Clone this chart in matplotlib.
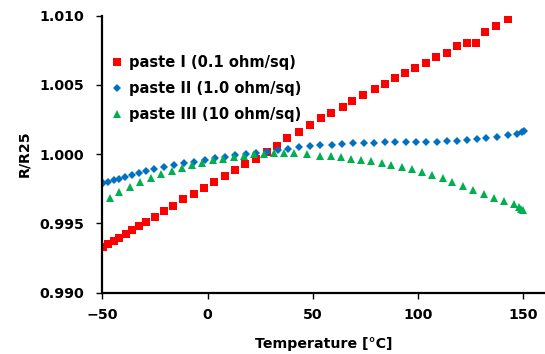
import matplotlib.pyplot as plt

# paste I (0.1 ohm/sq)
temp_1 = [-49.6, -47.2, -44.5, -42.0, -39.0, -36.0, -32.8, -29.2, -25.0, -20.7,
          -16.3, -11.6, -6.5, -1.6, 3.2, 8.3, 13.2, 17.9, 23.2, 28.4,
          33.1, 37.9, 43.3, 48.6, 53.8, 58.8, 64.2, 68.8, 74.0, 79.5,
          84.4, 89.0, 94.0, 98.8, 103.9, 108.8, 113.7, 118.5, 123.5, 127.8,
          132.1, 137.3, 143.0]
r_1 = [0.99330, 0.99349, 0.99373, 0.99397, 0.99424, 0.99450, 0.99481, 0.99508, 0.99544, 0.99589,
       0.99626, 0.99674, 0.99712, 0.99753, 0.99797, 0.99840, 0.99883, 0.99926, 0.99967, 1.00017,
       1.00056, 1.00114, 1.00157, 1.00210, 1.00258, 1.00294, 1.00338, 1.00381, 1.00424, 1.00468,
       1.00504, 1.00547, 1.00585, 1.00621, 1.00657, 1.00698, 1.00732, 1.00778, 1.00804, 1.00802,
       1.00879, 1.00922, 1.00973]

# paste II (1.0 ohm/sq)
temp_2 = [-49.6, -47.2, -44.7, -42.0, -39.2, -36.1, -32.8, -29.2, -25.4, -20.7,
          -16.1, -11.2, -6.6, -1.4, 3.4, 8.3, 13.2, 18.1, 23.2, 28.3,
          33.6, 38.4, 43.3, 48.7, 53.6, 59.0, 64.1, 69.0, 74.2, 79.1,
          84.2, 89.1, 94.2, 99.1, 103.9, 108.9, 113.7, 118.6, 123.4, 128.0,
          132.5, 137.6, 143.0, 147.0, 149.7, 150.6]
r_2 = [0.99794, 0.99801, 0.99811, 0.99822, 0.99837, 0.99851, 0.99866, 0.99878, 0.99890, 0.99905,
       0.99923, 0.99936, 0.99945, 0.99957, 0.99972, 0.99981, 0.99994, 1.00001, 1.00010, 1.00017,
       1.00030, 1.00037, 1.00049, 1.00061, 1.00063, 1.00066, 1.00075, 1.00078, 1.00078, 1.00082,
       1.00085, 1.00085, 1.00085, 1.00090, 1.00090, 1.00087, 1.00094, 1.00097, 1.00102, 1.00111,
       1.00118, 1.00126, 1.00138, 1.00147, 1.00159, 1.00167]

# paste III (10 ohm/sq)
temp_3 = [-46.6, -42.0, -37.1, -32.0, -27.1, -22.2, -17.1, -12.0, -7.3, -2.5,
          2.6, 7.5, 12.4, 17.2, 21.9, 26.7, 31.4, 36.2, 41.1, 47.3,
          53.4, 58.5, 63.4, 68.2, 73.1, 77.8, 82.8, 87.4, 92.3, 97.2,
          102.1, 106.9, 111.8, 116.4, 121.5, 126.4, 131.3, 136.2, 140.8, 145.7,
          148.2, 149.1, 150.0]
r_3 = [0.99683, 0.99727, 0.99760, 0.99797, 0.99825, 0.99854, 0.99876, 0.99898, 0.99919, 0.99938,
       0.99955, 0.99967, 0.99979, 0.99988, 0.99999, 1.00003, 1.00006, 1.00006, 1.00006, 0.99999,
       0.99988, 0.99986, 0.99977, 0.99967, 0.99955, 0.99948, 0.99934, 0.99924, 0.99905, 0.99890,
       0.99869, 0.99849, 0.99825, 0.99797, 0.99772, 0.99743, 0.99714, 0.99683, 0.99659, 0.99638,
       0.99616, 0.99606, 0.99594]

x_ticks = [-50, 0, 50, 100, 150]
y_ticks = [0.990, 0.995, 1.000, 1.005, 1.010]

plt.rcParams['font.family'] = ['DejaVu Sans']
plt.rcParams['font.weight'] = 'bold'

fig = plt.figure(figsize=(5.45, 3.54), dpi=100)
ax = fig.add_axes([0.188, 0.1737, 0.812, 0.7825])

ax.plot(temp_1, r_1, 's', color='#ff0000', markersize=5.2, markeredgewidth=0,
        label='paste I (0.1 ohm/sq)')
ax.plot(temp_2, r_2, 'D', color='#0070c0', markersize=4.0, markeredgewidth=0,
        label='paste II (1.0 ohm/sq)')
ax.plot(temp_3, r_3, '^', color='#00b050', markersize=5.2, markeredgewidth=0,
        label='paste III (10 ohm/sq)')

ax.set_xlim(-50, 160.5)
ax.set_ylim(0.990, 1.010)
ax.set_xticks(x_ticks)
ax.set_yticks(y_ticks)
ax.set_yticklabels([f'{v:.3f}' for v in y_ticks])

for s in ['top', 'right']:
    ax.spines[s].set_visible(False)
for s in ['left', 'bottom']:
    ax.spines[s].set_linewidth(1.6)

ax.tick_params(axis='both', direction='out', length=4, width=1, labelsize=10.2)
ax.tick_params(axis='y', pad=9)
ax.tick_params(axis='x', pad=7)

ax.set_xlabel('Temperature [°C]', fontsize=10.2, fontweight='bold', labelpad=11)
ax.set_ylabel('R/R25', fontsize=10.2, fontweight='bold', labelpad=6)

ax.legend(loc='upper left', bbox_to_anchor=(0.0, 0.893), frameon=False,
          fontsize=10.5, handlelength=0.6, handletextpad=0.5, labelspacing=0.74,
          borderaxespad=0.3)

fig.savefig('out.png', dpi=100)
